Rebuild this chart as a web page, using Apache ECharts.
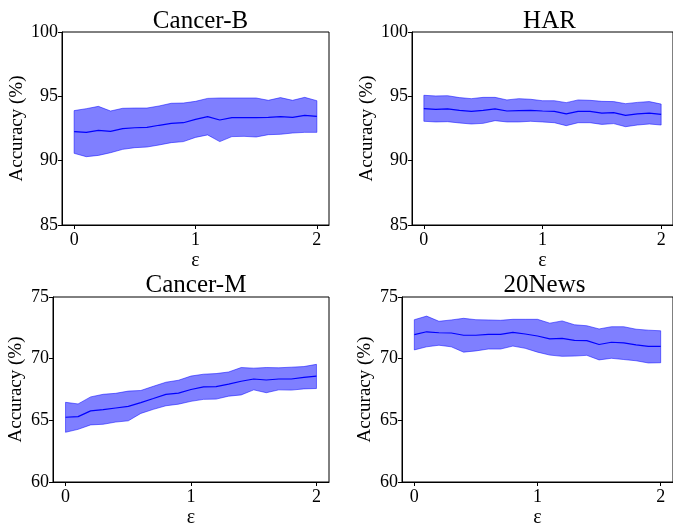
<!DOCTYPE html>
<html><head><meta charset="utf-8">
<script src="https://cdn.jsdelivr.net/npm/echarts@6/dist/echarts.min.js"></script>
<style>html,body{margin:0;padding:0;background:#fff}#c{width:673px;height:529px}</style>
</head><body><div id="c"></div>
<script>
const eps = [0,0.1,0.2,0.3,0.4,0.5,0.6,0.7,0.8,0.9,1.0,1.1,1.2,1.3,1.4,1.5,1.6,1.7,1.8,1.9,2.0];
const titles = ['Cancer-B','HAR','Cancer-M','20News'];
const xTicks = [0,1,2];

const cancerBMean  = [92.25,92.20,92.36,92.28,92.49,92.56,92.59,92.75,92.90,92.95,93.21,93.42,93.16,93.34,93.34,93.34,93.37,93.42,93.37,93.52,93.45];
const cancerBUpper = [93.89,94.04,94.22,93.86,94.07,94.09,94.09,94.25,94.46,94.48,94.61,94.84,94.87,94.87,94.87,94.87,94.69,94.90,94.69,94.92,94.66];
const cancerBLower = [90.57,90.31,90.41,90.62,90.88,91.01,91.06,91.22,91.40,91.48,91.81,92.00,91.48,91.87,91.89,91.84,92.02,92.05,92.15,92.20,92.20];

const harMean  = [94.04,93.99,94.02,93.91,93.83,93.91,94.02,93.86,93.89,93.91,93.86,93.83,93.63,93.83,93.83,93.70,93.73,93.52,93.63,93.70,93.60];
const harUpper = [95.08,95.03,95.05,94.90,94.82,94.92,94.92,94.72,94.82,94.77,94.66,94.66,94.51,94.72,94.69,94.61,94.59,94.43,94.53,94.59,94.40];
const harLower = [93.06,93.01,93.03,92.93,92.85,92.90,93.11,93.01,93.01,93.06,93.01,92.95,92.72,92.95,92.95,92.82,92.88,92.64,92.77,92.85,92.77];

const cancerMMean  = [65.25,65.30,65.77,65.87,66.00,66.13,66.44,66.77,67.11,67.21,67.50,67.71,67.73,67.94,68.17,68.35,68.27,68.35,68.35,68.48,68.59];
const cancerMUpper = [66.46,66.33,66.90,67.11,67.19,67.37,67.42,67.76,68.09,68.25,68.59,68.74,68.79,68.92,69.28,69.23,69.28,69.26,69.31,69.36,69.54];
const cancerMLower = [64.03,64.27,64.63,64.68,64.86,64.96,65.56,65.89,66.18,66.31,66.54,66.70,66.72,66.96,67.06,67.47,67.24,67.47,67.45,67.55,67.58];

const newsMean  = [71.95,72.18,72.10,72.08,71.90,71.90,71.97,71.97,72.13,72.00,71.84,71.61,71.64,71.48,71.46,71.15,71.33,71.28,71.12,70.99,70.99];
const newsUpper = [73.16,73.45,73.03,73.14,73.27,73.16,73.14,73.11,73.19,73.19,73.19,72.88,73.06,72.75,72.67,72.41,72.59,72.59,72.39,72.31,72.26];
const newsLower = [70.71,70.96,71.09,70.96,70.53,70.63,70.78,70.78,71.02,70.84,70.53,70.29,70.19,70.21,70.27,69.90,70.03,69.93,69.83,69.65,69.67];

const yRanges = [[85,100],[85,100],[60,75],[60,75]];
const panels = [
  {mean: cancerBMean, upper: cancerBUpper, lower: cancerBLower},
  {mean: harMean, upper: harUpper, lower: harLower},
  {mean: cancerMMean, upper: cancerMUpper, lower: cancerMLower},
  {mean: newsMean, upper: newsUpper, lower: newsLower}
];

const FONT = '"Liberation Serif","DejaVu Serif",serif';
const grids = [
  {left: 62, top: 32, width: 267, height: 193},
  {left: 412, top: 32, width: 265, height: 193},
  {left: 53, top: 297, width: 276, height: 193},
  {left: 402, top: 297, width: 275, height: 193}
];
const nameGaps = [35, 35, 27, 27];

const option = {
  animation: false,
  backgroundColor: '#fff',
  title: grids.map((g, i) => ({
    text: titles[i],
    left: g.left + g.width / 2,
    top: i < 2 ? 4 : 268,
    textAlign: 'center',
    textStyle: {fontFamily: FONT, fontSize: 25, fontWeight: 'normal', color: '#000'}
  })),
  grid: grids.map(g => Object.assign({show: true, borderColor: '#000', borderWidth: 1, backgroundColor: 'transparent'}, g)),
  xAxis: grids.map((g, i) => ({
    type: 'value', gridIndex: i, min: -0.1, max: 2.1,
    name: 'ε', nameLocation: 'middle', nameGap: 26,
    nameTextStyle: {fontFamily: FONT, fontSize: 20, color: '#000'},
    axisLine: {show: true, onZero: false, lineStyle: {color: '#000', width: 1}},
    axisTick: {show: true, inside: false, length: 4, customValues: xTicks, lineStyle: {color: '#000'}},
    axisLabel: {customValues: xTicks, fontFamily: FONT, fontSize: 18, color: '#000', margin: 6,
      formatter: v => String(Math.round(v))},
    splitLine: {show: false}
  })),
  yAxis: grids.map((g, i) => ({
    type: 'value', gridIndex: i, min: yRanges[i][0], max: yRanges[i][1], interval: 5,
    name: 'Accuracy (%)', nameLocation: 'middle', nameGap: nameGaps[i], nameRotate: 90,
    nameTextStyle: {fontFamily: FONT, fontSize: 19, color: '#000'},
    axisLine: {show: true, onZero: false, lineStyle: {color: '#000', width: 1}},
    axisTick: {show: true, inside: false, length: 4, lineStyle: {color: '#000'}},
    axisLabel: {fontFamily: FONT, fontSize: 18, color: '#000', margin: 4},
    splitLine: {show: false}
  })),
  series: []
};

panels.forEach((p, i) => {
  option.series.push({
    type: 'custom', xAxisIndex: i, yAxisIndex: i,
    data: eps.map((e, k) => [e, p.lower[k], p.upper[k]]),
    renderItem: function (params, api) {
      if (params.dataIndex !== 0) return null;
      const pts = [];
      for (let k = 0; k < eps.length; k++) pts.push(api.coord([eps[k], p.upper[k]]));
      for (let k = eps.length - 1; k >= 0; k--) pts.push(api.coord([eps[k], p.lower[k]]));
      return {type: 'polygon', shape: {points: pts},
        style: {fill: 'rgba(0,0,255,0.5)', stroke: 'rgba(0,0,255,0.5)', lineWidth: 1}};
    },
    silent: true, z: 1
  });
  option.series.push({
    type: 'line', xAxisIndex: i, yAxisIndex: i,
    data: eps.map((e, k) => [e, p.mean[k]]),
    showSymbol: false, symbol: 'none',
    lineStyle: {color: '#0000ff', width: 1.2},
    silent: true, z: 2
  });
});

const chart = echarts.init(document.getElementById('c'), null, {renderer: 'canvas'});
chart.setOption(option);
</script></body></html>
